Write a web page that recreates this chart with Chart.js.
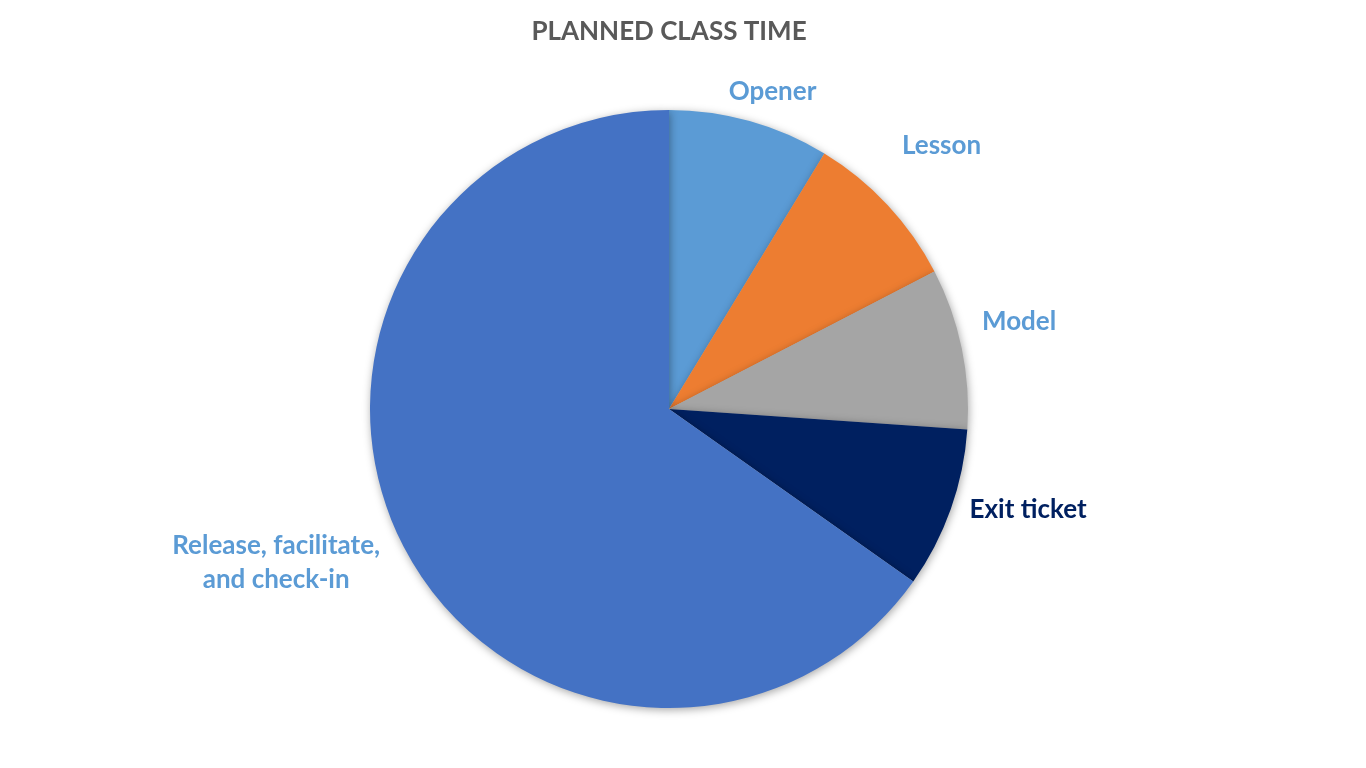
<!DOCTYPE html>
<html>
<head>
<meta charset="utf-8">
<script src="https://cdn.jsdelivr.net/npm/chart.js@4"></script>
<style>
  html, body { margin:0; padding:0; background:#fff; }
  #wrap { width:1366px; height:768px; }
</style>
</head>
<body>
<div id="wrap"><canvas id="pieChart" width="1366" height="768"></canvas></div>
<script>
// planned minutes per part of the class
var parts = ['Opener', 'Lesson', 'Model', 'Exit ticket', 'Release, facilitate,\nand check-in'];
var minutes = [8, 8, 8, 8, 60];
var sliceColors = ['#5B9BD5', '#ED7D31', '#A5A5A5', '#002060', '#4472C4'];
var labelColors = ['#5B9BD5', '#5B9BD5', '#5B9BD5', '#002060', '#5B9BD5'];

// where each label sits: distance from centre (x radius) and angle tweak (deg)
var labelDist = [1.117, 1.268, 1.207, 1.247, 1.411];
var labelTurn = [2.4, -1.0, -2.3, -3.95, 6.0];

var pieShadow = {
    id: 'pieShadow',
    beforeDatasetDraw: function(chart){
        var ctx = chart.ctx;
        ctx.save();
        ctx.shadowColor = 'rgba(0,0,0,0.35)';
        ctx.shadowBlur = 8;
        ctx.shadowOffsetX = 1;
        ctx.shadowOffsetY = 2;
    },
    afterDatasetDraw: function(chart){
        chart.ctx.restore();
    }
};

var outsideLabels = {
    id: 'outsideLabels',
    afterDatasetsDraw: function(chart){
        var ctx = chart.ctx;
        var arcs = chart.getDatasetMeta(0).data;
        ctx.save();
        ctx.font = 'bold 26px Lato';
        ctx.textAlign = 'center';
        ctx.textBaseline = 'middle';
        for (var i = 0; i < arcs.length; i++){
            var a = arcs[i];
            var mid = (a.startAngle + a.endAngle) / 2 + labelTurn[i] * Math.PI / 180;
            var d = a.outerRadius * labelDist[i];
            var x = a.x + Math.cos(mid) * d;
            var y = a.y + Math.sin(mid) * d;
            var lines = parts[i].split('\n');
            ctx.fillStyle = labelColors[i];
            for (var j = 0; j < lines.length; j++){
                ctx.fillText(lines[j], x, y + (j - (lines.length - 1) / 2) * 34);
            }
        }
        ctx.restore();
    }
};

new Chart('pieChart', {
    type: 'pie',
    data: {
        labels: parts,
        datasets: [{
            data: minutes,
            backgroundColor: sliceColors,
            borderWidth: 0,
            hoverOffset: 0
        }]
    },
    options: {
        responsive: false,
        animation: false,
        devicePixelRatio: 1,
        layout: { padding: { top: 0, bottom: 60, left: 0, right: 28 } },
        plugins: {
            legend: { display: false },
            tooltip: { enabled: false },
            title: {
                display: true,
                text: 'PLANNED CLASS TIME',
                color: '#595959',
                font: { family: 'Lato', size: 26, weight: 'bold', lineHeight: 1.2 },
                padding: { top: 16.4, bottom: 62.4 }
            }
        }
    },
    plugins: [pieShadow, outsideLabels]
});
</script>
</body>
</html>
